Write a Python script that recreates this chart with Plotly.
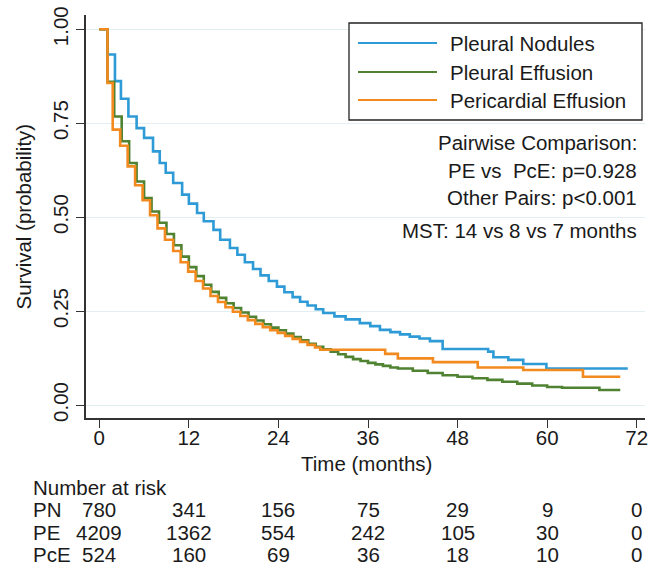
import plotly.graph_objects as go

# ---------------- data ----------------
pn_time = [0, 1.1, 2.1, 2.9, 3.9, 5.0, 6.0, 7.2, 8.1, 8.9, 9.9, 11.1, 12.0, 13.1, 14.0, 15.3, 16.2,
           17.5, 18.5, 19.5, 20.6, 21.6, 22.7, 23.8, 24.8, 25.9, 26.9, 27.9, 29.0, 30.0, 31.5, 33.0,
           34.9, 36.3, 37.6, 39.0, 40.3, 41.6, 42.9, 44.3, 46.0, 52.1, 52.8, 54.8, 56.8, 59.9, 70.8]
pn_surv = [1.0, 0.933, 0.862, 0.815, 0.768, 0.737, 0.711, 0.675, 0.644, 0.618, 0.591, 0.56, 0.536,
           0.511, 0.489, 0.466, 0.44, 0.418, 0.40, 0.38, 0.362, 0.345, 0.33, 0.315, 0.30, 0.287, 0.275,
           0.265, 0.255, 0.245, 0.236, 0.228, 0.218, 0.21, 0.2, 0.194, 0.188, 0.182, 0.177, 0.17, 0.149,
           0.142, 0.127, 0.12, 0.109, 0.097, 0.097]

pe_time = [0, 1.1, 2.0, 3.0, 4.0, 5.0, 6.0, 7.0, 8.0, 9.0, 10.0, 11.0, 12.0, 13.0, 14.0, 15.0, 16.0,
           17.0, 18.0, 19.0, 20.0, 21.0, 22.0, 23.0, 24.0, 25.0, 26.0, 27.0, 28.0, 29.0, 30.0, 31.0,
           32.0, 33.0, 34.0, 35.0, 36.0, 37.0, 38.0, 39.0, 40.0, 42.0, 44.0, 46.0, 48.0, 50.0, 52.0,
           54.0, 56.0, 58.0, 60.0, 62.0, 67.0, 69.8]
pe_surv = [1.0, 0.86, 0.768, 0.702, 0.644, 0.595, 0.551, 0.515, 0.485, 0.455, 0.425, 0.395, 0.367,
           0.343, 0.32, 0.301, 0.285, 0.271, 0.258, 0.246, 0.235, 0.225, 0.215, 0.206, 0.199, 0.19,
           0.181, 0.172, 0.163, 0.155, 0.148, 0.142, 0.135, 0.128, 0.122, 0.117, 0.112, 0.108, 0.104,
           0.1, 0.097, 0.091, 0.085, 0.079, 0.075, 0.071, 0.067, 0.062, 0.057, 0.052, 0.048, 0.046,
           0.04, 0.04]

pce_time = [0, 1.1, 1.8, 2.8, 3.8, 4.8, 5.8, 6.8, 7.8, 8.8, 9.9, 10.9, 11.9, 12.9, 13.9, 14.9, 15.9,
            16.9, 17.9, 18.9, 19.9, 20.9, 21.9, 22.9, 23.9, 24.9, 25.9, 26.9, 27.9, 28.9, 29.6, 38.3,
            40.0, 44.7, 50.7, 56.8, 64.8, 69.8]
pce_surv = [1.0, 0.857, 0.733, 0.69, 0.635, 0.585, 0.545, 0.505, 0.47, 0.44, 0.41, 0.38, 0.355, 0.33,
            0.31, 0.29, 0.274, 0.26, 0.248, 0.237, 0.226, 0.216, 0.207, 0.199, 0.192, 0.184, 0.176,
            0.168, 0.16, 0.153, 0.147, 0.136, 0.124, 0.114, 0.1, 0.093, 0.075, 0.075]

series_names = ["Pleural Nodules", "Pleural Effusion", "Pericardial Effusion"]
series_colors = ["#2f9bd6", "#4f8231", "#f28a1f"]

x_ticks = [0, 12, 24, 36, 48, 60, 72]
y_ticks = [0.0, 0.25, 0.5, 0.75, 1.0]

risk_labels = ["PN", "PE", "PcE"]
risk_pn = [780, 341, 156, 75, 29, 9, 0]
risk_pe = [4209, 1362, 554, 242, 105, 30, 0]
risk_pce = [524, 160, 69, 36, 18, 10, 0]

stats_lines = ["Pairwise Comparison:", "PE vs  PcE: p=0.928", "Other Pairs: p<0.001",
               "MST: 14 vs 8 vs 7 months"]

# ---------------- layout helpers ----------------
W, H = 656, 569
L, R, T, B = 86, 11, 15, 151
PW, PH = W - L - R, H - T - B
FONT = "Liberation Sans, Arial, Helvetica, sans-serif"
TXT = "#1a1a1a"
FS = 20.5


def px2x(px):
    return (px - L) / PW


def px2y(py):
    return (H - B - py) / PH


fig = go.Figure()
for t, s, name, col in zip([pn_time, pe_time, pce_time], [pn_surv, pe_surv, pce_surv],
                           series_names, series_colors):
    fig.add_trace(go.Scatter(x=t, y=s, mode="lines", name=name, line_shape="hv",
                             line=dict(color=col, width=2.6), showlegend=False))

shapes = []
annotations = []

# custom legend box
shapes.append(dict(type="rect", xref="paper", yref="paper", x0=px2x(349), x1=px2x(642),
                   y0=px2y(120), y1=px2y(23), line=dict(color="#222222", width=1.3),
                   fillcolor="white", layer="above"))
for i, (name, col) in enumerate(zip(series_names, series_colors)):
    py = [43, 72, 100][i]
    shapes.append(dict(type="line", xref="paper", yref="paper", x0=px2x(358), x1=px2x(437),
                       y0=px2y(py), y1=px2y(py), line=dict(color=col, width=2.2), layer="above"))
    annotations.append(dict(xref="paper", yref="paper", x=px2x(448), y=px2y(py), text=name,
                            showarrow=False, xanchor="left", yanchor="middle",
                            font=dict(size=FS, color=TXT, family=FONT)))

# statistics text
for txt, py in zip(stats_lines, [142, 170, 198, 230]):
    annotations.append(dict(xref="paper", yref="paper", x=px2x(639), y=px2y(py), text=txt,
                            showarrow=False, xanchor="right", yanchor="middle",
                            font=dict(size=FS, color=TXT, family=FONT)))

# axis titles
annotations.append(dict(xref="paper", yref="paper", x=px2x(366), y=px2y(463), text="Time (months)",
                        showarrow=False, xanchor="center", yanchor="middle",
                        font=dict(size=FS, color=TXT, family=FONT)))
annotations.append(dict(xref="paper", yref="paper", x=px2x(23), y=0.5, text="Survival (probability)",
                        showarrow=False, xanchor="center", yanchor="middle", textangle=-90,
                        font=dict(size=FS, color=TXT, family=FONT)))

# number at risk table
annotations.append(dict(xref="paper", yref="paper", x=px2x(31), y=px2y(487), text="Number at risk",
                        showarrow=False, xanchor="left", yanchor="middle",
                        font=dict(size=FS, color=TXT, family=FONT)))
for lab, row, py in zip(risk_labels, [risk_pn, risk_pe, risk_pce], [509.5, 532, 554.5]):
    annotations.append(dict(xref="paper", yref="paper", x=px2x(31), y=px2y(py), text=lab,
                            showarrow=False, xanchor="left", yanchor="middle",
                            font=dict(size=FS, color=TXT, family=FONT)))
    for tx, n in zip(x_ticks, row):
        annotations.append(dict(xref="x", yref="paper", x=tx, y=px2y(py), text=str(n),
                                showarrow=False, xanchor="center", yanchor="middle",
                                font=dict(size=FS, color=TXT, family=FONT)))

fig.update_layout(
    width=W, height=H,
    margin=dict(l=L, r=R, t=T, b=B, pad=0, autoexpand=False),
    paper_bgcolor="white", plot_bgcolor="white",
    font=dict(family=FONT, size=FS, color=TXT),
    shapes=shapes, annotations=annotations,
    showlegend=False,
)
fig.update_xaxes(
    range=[-1.78, 73.11], tickvals=x_ticks, ticktext=[str(v) for v in x_ticks],
    showgrid=False, zeroline=False, showline=True, linecolor="#333333", linewidth=1.5,
    ticks="outside", ticklen=8, tickwidth=1.3, tickcolor="#333333", automargin=False,
    ticklabelstandoff=-7,
    tickfont=dict(size=FS, color=TXT, family=FONT),
)
fig.update_yaxes(
    range=[-0.0346, 1.038], tickvals=y_ticks, tickformat=".2f",
    showgrid=True, gridcolor="#e2eef1", gridwidth=1.2, zeroline=False,
    showline=True, linecolor="#333333", linewidth=1.5, automargin=False,
    ticks="outside", ticklen=8, tickwidth=1.3, tickcolor="#333333", tickangle=-90,
    tickfont=dict(size=FS, color=TXT, family=FONT),
)

fig.write_html("out.html", config={"displayModeBar": False},
               post_script="document.body.style.margin='0';")
